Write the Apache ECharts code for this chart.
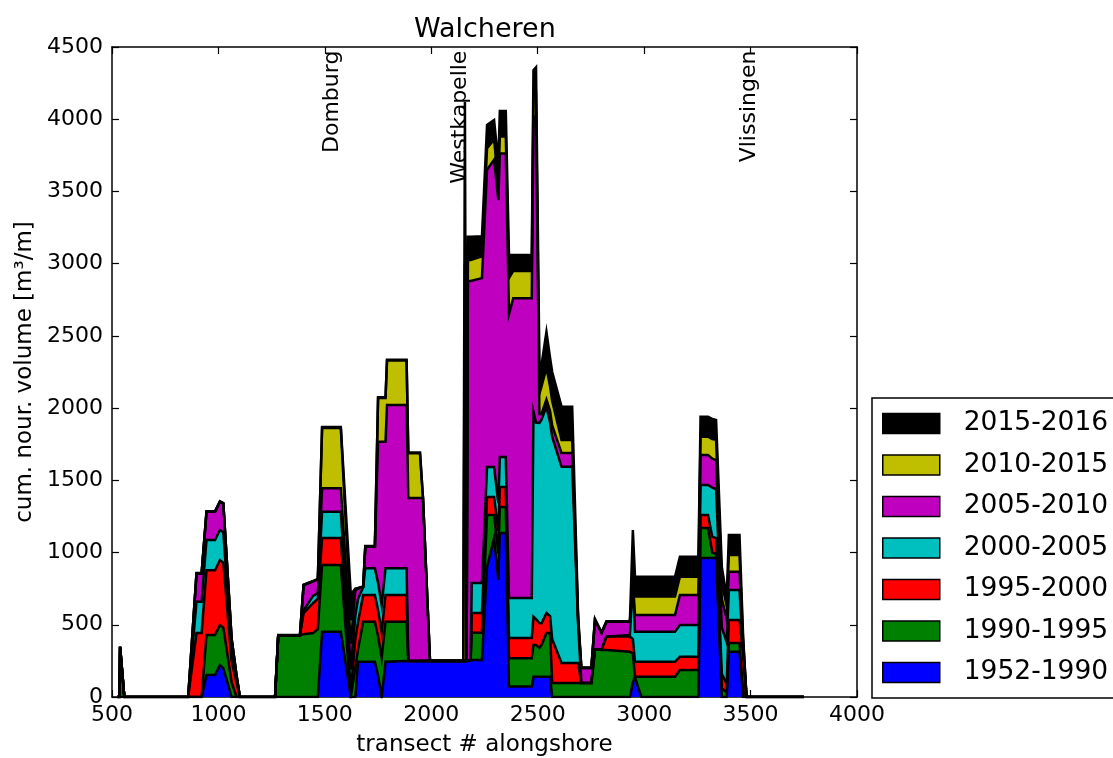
<!DOCTYPE html>
<html>
<head>
<meta charset="utf-8">
<script src="https://cdn.jsdelivr.net/npm/echarts@6/dist/echarts.min.js"></script>
<style>
  html, body { margin: 0; padding: 0; background: #fff; }
  #chart { width: 1113px; height: 758px; }
</style>
</head>
<body>
<div id="chart"></div>
<script>
// transect numbers (alongshore) where the cumulative volumes were read
const transect = [525, 535, 538, 558, 858, 897, 921, 944, 984, 1007,
  1023, 1062, 1085, 1101, 1266, 1281, 1383, 1400, 1445, 1467,
  1487, 1575, 1622, 1643, 1656, 1680, 1690, 1735, 1750, 1767,
  1785, 1792, 1884, 1892, 1947, 1961, 1994, 2150, 2158, 2166,
  2172, 2185, 2190, 2238, 2262, 2295, 2315, 2322, 2350, 2365,
  2385, 2472, 2480, 2492, 2508, 2518, 2541, 2558, 2568, 2612,
  2662, 2690, 2705, 2752, 2769, 2800, 2823, 2933, 2947, 2957,
  2971, 2988, 3145, 3168, 3255, 3265, 3300, 3320, 3338, 3365,
  3388, 3398, 3448, 3465, 3481, 3750]

// cumulative nourishment volume [m3/m] at the end of each period
const cum1990 = [0, 0, 0, 0, 0, 0, 0, 152, 152, 221,
  200, 0, 0, 0, 0, 0, 0, 0, 0, 0,
  452, 452, 0, 0, 244, 244, 244, 244, 150, 0,
  244, 250, 250, 250, 250, 250, 250, 250, 250, 250,
  256, 256, 256, 256, 900, 1100, 810, 1135, 1135, 72,
  72, 72, 141, 141, 141, 141, 141, 141, 0, 0,
  0, 0, 0, 0, 0, 0, 0, 0, 100, 141,
  70, 0, 0, 0, 0, 962, 962, 962, 962, 0,
  0, 314, 314, 0, 0, 0]
const cum1995 = [0, 0, 348, 0, 0, 0, 0, 429, 429, 498,
  480, 100, 0, 0, 0, 427, 427, 435, 443, 470,
  914, 914, 0, 200, 330, 521, 521, 521, 420, 270,
  521, 521, 521, 250, 250, 250, 250, 250, 250, 250,
  256, 256, 445, 445, 1260, 1260, 997, 1316, 1316, 269,
  269, 269, 360, 360, 340, 360, 443, 443, 97, 97,
  97, 97, 97, 97, 330, 325, 325, 314, 300, 141,
  141, 141, 141, 187, 187, 1170, 1170, 1000, 990, 62,
  30, 374, 374, 40, 0, 0]
const cum2000 = [0, 0, 348, 0, 0, 443, 443, 877, 877, 948,
  930, 250, 100, 0, 0, 427, 427, 581, 651, 680,
  1100, 1100, 40, 400, 520, 706, 706, 706, 600, 452,
  706, 706, 706, 250, 250, 250, 250, 250, 250, 250,
  256, 256, 581, 581, 1385, 1385, 1150, 1454, 1454, 408,
  408, 408, 556, 540, 510, 510, 581, 560, 400, 235,
  235, 235, 97, 97, 330, 330, 418, 418, 400, 244,
  244, 244, 244, 279, 279, 1260, 1260, 1110, 1100, 160,
  90, 533, 533, 300, 0, 0]
const cum2005 = [0, 0, 348, 0, 0, 660, 660, 1087, 1087, 1156,
  1140, 330, 130, 0, 0, 427, 427, 600, 700, 720,
  1283, 1283, 190, 560, 680, 760, 892, 892, 790, 637,
  892, 892, 892, 250, 250, 250, 250, 250, 250, 250,
  256, 256, 789, 789, 1592, 1592, 1343, 1662, 1662, 685,
  685, 685, 1975, 1900, 1897, 1920, 2010, 1900, 1800, 1594,
  1594, 500, 97, 97, 330, 330, 418, 430, 800, 452,
  452, 452, 452, 498, 498, 1468, 1468, 1450, 1440, 480,
  380, 741, 741, 330, 0, 0]
const cum2010 = [0, 0, 348, 0, 0, 855, 855, 1283, 1283, 1352,
  1340, 400, 150, 0, 0, 427, 427, 775, 800, 815,
  1445, 1445, 370, 740, 750, 762, 1040, 1040, 1767, 1767,
  1767, 2021, 2021, 1377, 1377, 1377, 250, 250, 250, 250,
  2880, 2880, 2880, 2900, 3650, 3720, 3440, 3762, 3762, 2650,
  2760, 2760, 4000, 4030, 1960, 1960, 2060, 1980, 1880, 1689,
  1689, 520, 200, 200, 533, 443, 521, 521, 810, 568,
  568, 568, 568, 706, 706, 1675, 1675, 1650, 1640, 680,
  540, 867, 867, 360, 0, 0]
const cum2015 = [0, 0, 348, 0, 0, 855, 855, 1283, 1283, 1352,
  1340, 400, 150, 0, 0, 427, 427, 775, 800, 815,
  1862, 1862, 530, 745, 752, 764, 1040, 1040, 2070, 2070,
  2070, 2330, 2330, 1688, 1688, 1377, 250, 250, 3000, 250,
  3025, 3025, 3025, 3050, 3800, 3860, 3550, 3880, 3880, 2900,
  2950, 2950, 4150, 4175, 2100, 2150, 2280, 2150, 2050, 1779,
  1779, 530, 200, 200, 533, 443, 521, 521, 820, 695,
  695, 695, 695, 833, 833, 1802, 1802, 1785, 1780, 790,
  630, 983, 983, 390, 0, 0]
const cum2016 = [0, 0, 348, 0, 0, 858, 858, 1286, 1286, 1355,
  1343, 405, 152, 0, 0, 430, 430, 778, 803, 818,
  1870, 1870, 710, 750, 755, 766, 1045, 1045, 2075, 2075,
  2075, 2335, 2335, 1692, 1692, 1380, 252, 252, 4120, 252,
  3187, 3187, 3187, 3190, 3960, 3995, 3700, 4057, 4057, 3060,
  3060, 3060, 4340, 4360, 2300, 2300, 2529, 2350, 2250, 2010,
  2010, 560, 205, 205, 540, 448, 525, 525, 1156, 833,
  833, 833, 833, 971, 971, 1940, 1940, 1925, 1918, 900,
  690, 1122, 1122, 420, 0, 0]

// legend order, top to bottom
const periods = ['2015-2016', '2010-2015', '2005-2010', '2000-2005', '1995-2000', '1990-1995', '1952-1990']
const periodValues = [cum2016, cum2015, cum2010, cum2005, cum2000, cum1995, cum1990]
const periodColors = ['#000000', '#bfbf00', '#bf00bf', '#00bfbf', '#ff0000', '#008000', '#0000ff']

const towns = ['Domburg', 'Westkapelle', 'Vlissingen']
const townX = [1535, 2135, 3492]
const townY = 4475

const xTicks = [500, 4000, 500] // min, max, step
const yTicks = [0, 4500, 500]

const font = 'DejaVu Sans'
const chart = echarts.init(document.getElementById('chart'))

// later periods are drawn first so the earlier (lower) ones sit on top
const series = periods.map((name, k) => ({
  name: name,
  type: 'line',
  data: transect.map((x, i) => [x, periodValues[k][i]]),
  symbol: 'none',
  showSymbol: false,
  silent: true,
  lineStyle: { color: '#000', width: 2.5, join: 'miter' },
  areaStyle: { color: periodColors[k], opacity: 1 }
}))

series.push({
  type: 'scatter',
  silent: true,
  symbolSize: 0,
  itemStyle: { opacity: 1 },
  data: towns.map((t, i) => [townX[i], townY, t]),
  label: {
    show: true,
    position: [0, 0],
    rotate: 90,
    align: 'right',
    verticalAlign: 'middle',
    color: '#000',
    opacity: 1,
    fontSize: 22,
    fontFamily: font,
    formatter: p => p.data[2]
  },
  z: 10
})

const axisLine = { show: true, onZero: false, lineStyle: { color: '#000', width: 1.5 } }
const axisTick = { show: true, inside: true, length: 7, lineStyle: { color: '#000', width: 1.2 } }
const plain = v => String(v)

let option = {
  animation: false,
  backgroundColor: '#fff',
  title: {
    text: 'Walcheren',
    left: 409,
    top: 11,
    textStyle: { fontSize: 27, fontWeight: 'normal', color: '#000', fontFamily: font }
  },
  grid: { left: 112, right: 256, top: 47, bottom: 61, outerBoundsMode: 'none' },
  legend: {
    data: periods.map((p, k) => ({ name: p, itemStyle: { color: periodColors[k] } })),
    orient: 'vertical',
    left: 872,
    top: 398,
    icon: 'rect',
    itemWidth: 57,
    itemHeight: 20,
    itemGap: 14.5,
    padding: [12, 20, 12, 10],
    borderColor: '#000',
    borderWidth: 1.5,
    selectedMode: false,
    itemStyle: { borderColor: '#000', borderWidth: 1.5 },
    textStyle: { fontSize: 26.5, fontFamily: font, color: '#000', padding: [0, 0, 0, 19] }
  },
  xAxis: [{
    type: 'value',
    min: xTicks[0], max: xTicks[1], interval: xTicks[2],
    position: 'bottom',
    axisLine: axisLine,
    axisTick: axisTick,
    splitLine: { show: false },
    axisLabel: { color: '#000', fontSize: 22, fontFamily: font, margin: 7, formatter: plain },
    name: 'transect # alongshore',
    nameLocation: 'middle',
    nameGap: 37,
    nameTextStyle: { color: '#000', fontSize: 23, fontFamily: font }
  }, {
    type: 'value',
    min: xTicks[0], max: xTicks[1], interval: xTicks[2],
    position: 'top',
    axisLine: axisLine,
    axisTick: axisTick,
    splitLine: { show: false },
    axisLabel: { show: false }
  }],
  yAxis: [{
    type: 'value',
    min: yTicks[0], max: yTicks[1], interval: yTicks[2],
    position: 'left',
    axisLine: axisLine,
    axisTick: axisTick,
    splitLine: { show: false },
    axisLabel: { color: '#000', fontSize: 22, fontFamily: font, margin: 9, formatter: plain },
    name: 'cum. nour. volume [m³/m]',
    nameLocation: 'middle',
    nameGap: 64,
    nameTextStyle: { color: '#000', fontSize: 23, fontFamily: font }
  }, {
    type: 'value',
    min: yTicks[0], max: yTicks[1], interval: yTicks[2],
    position: 'right',
    axisLine: axisLine,
    axisTick: axisTick,
    splitLine: { show: false },
    axisLabel: { show: false }
  }],
  series: series
}
chart.setOption(option)
</script>
</body>
</html>
